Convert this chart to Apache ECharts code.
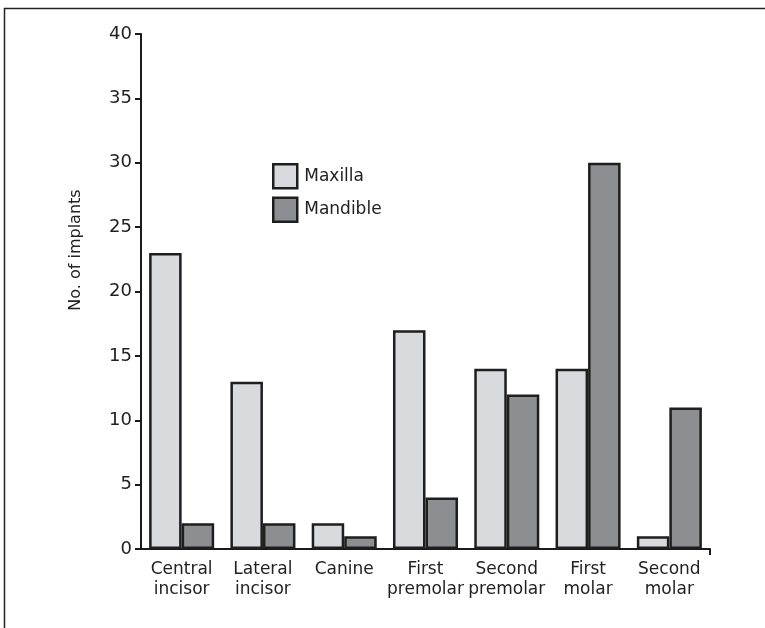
<!DOCTYPE html>
<html>
<head>
<meta charset="utf-8">
<script src="https://cdn.jsdelivr.net/npm/echarts@6/dist/echarts.min.js"></script>
<style>html,body{margin:0;padding:0;background:#fff;}#c{width:765px;height:628px;}</style>
</head>
<body>
<div id="c"></div>
<script>
var categories = ['Central\nincisor', 'Lateral\nincisor', 'Canine', 'First\npremolar', 'Second\npremolar', 'First\nmolar', 'Second\nmolar'];
var maxilla = [23, 13, 2, 17, 14, 14, 1];
var mandible = [2, 2, 1, 4, 12, 30, 11];
var seriesNames = ['Maxilla', 'Mandible'];
var yAxisTitle = 'No. of implants';

var FONT = 'DejaVu Sans';
var TXT = '#222';
var GRID = {left: 141, right: 55, top: 34, bottom: 79};
var chart = echarts.init(document.getElementById('c'), null, {renderer: 'canvas'});
var graphics = [
  {type: 'text', x: 76, y: 250, rotation: Math.PI / 2,
    style: {text: yAxisTitle, fontFamily: FONT, fontSize: 16, fill: TXT, align: 'center', verticalAlign: 'middle'}},
  {type: 'line', shape: {x1: 4, y1: 8.5, x2: 765, y2: 8.5}, style: {stroke: '#222', lineWidth: 1.5}},
  {type: 'line', shape: {x1: 4.5, y1: 8, x2: 4.5, y2: 628}, style: {stroke: '#222', lineWidth: 1.5}}
];
chart.setOption({
  animation: false,
  backgroundColor: '#fff',
  textStyle: {fontFamily: FONT, color: TXT},
  grid: GRID,
  legend: {
    orient: 'vertical', left: 267, top: 158, itemWidth: 24, itemHeight: 24, itemGap: 7,
    icon: 'rect', itemStyle: {borderWidth: 2.5},
    textStyle: {fontFamily: FONT, fontSize: 17, color: TXT, padding: [0, 0, 0, 2]},
    data: seriesNames
  },
  xAxis: {
    type: 'category', data: categories,
    axisLine: {lineStyle: {color: '#1a1a1a', width: 2}},
    axisTick: {show: false},
    axisLabel: {fontFamily: FONT, fontSize: 17, color: TXT, lineHeight: 20, margin: 11, interval: 0}
  },
  yAxis: {
    type: 'value', min: 0, max: 40, interval: 5,
    splitLine: {show: false},
    axisLine: {show: true, lineStyle: {color: '#1a1a1a', width: 2}},
    axisTick: {show: true, length: 6, lineStyle: {color: '#1a1a1a', width: 2}},
    axisLabel: {fontFamily: FONT, fontSize: 18, color: TXT, margin: 9}
  },
  graphic: graphics,
  series: [
    {name: seriesNames[0], type: 'bar', data: maxilla, barGap: '0%', barCategoryGap: '20%',
      itemStyle: {color: '#d9dadd', borderColor: '#1e1e1e', borderWidth: 2.5}},
    {name: seriesNames[1], type: 'bar', data: mandible, barGap: '0%', barCategoryGap: '20%',
      itemStyle: {color: '#8d8e92', borderColor: '#1e1e1e', borderWidth: 2.5}}
  ]
});
// closing tick at the right end of the x axis
var ex = 765 - GRID.right, ey = 628 - GRID.bottom;
graphics.push({type: 'line', shape: {x1: ex, y1: ey, x2: ex, y2: ey + 6}, style: {stroke: '#1a1a1a', lineWidth: 2}});
chart.setOption({graphic: graphics});
</script>
</body>
</html>
